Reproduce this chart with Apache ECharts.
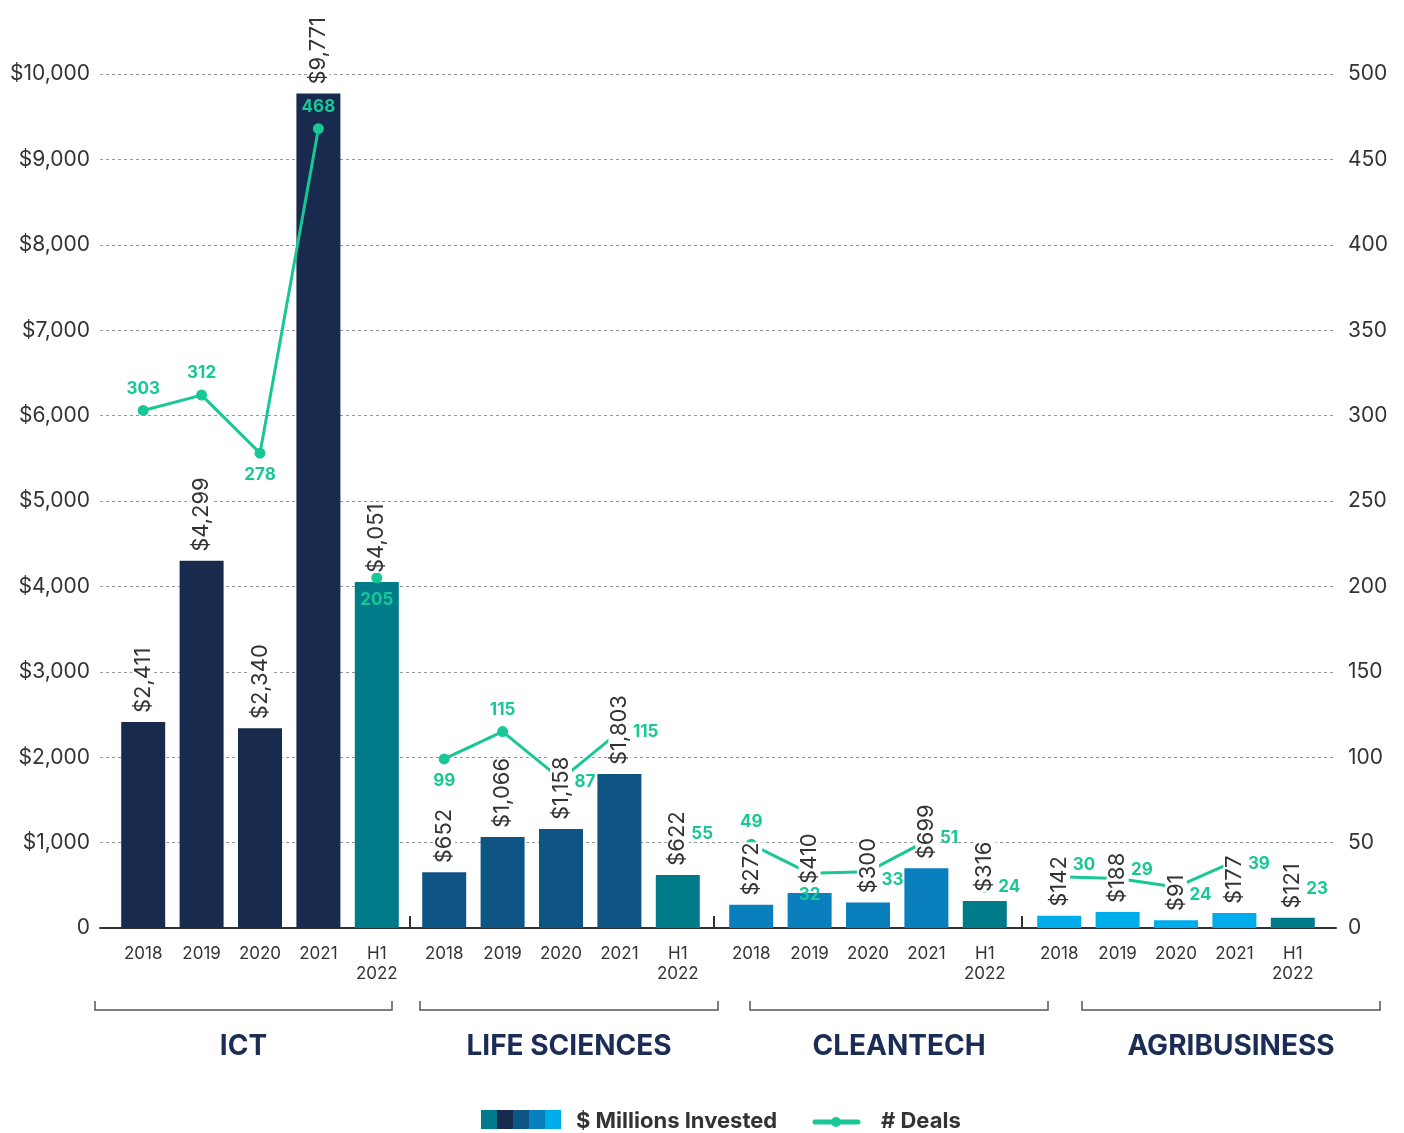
<!DOCTYPE html>
<html>
<head>
<meta charset="utf-8">
<script src="https://cdn.jsdelivr.net/npm/echarts@6/dist/echarts.min.js"></script>
<style>
  html, body { margin: 0; padding: 0; background: #fff; }
  #chart { width: 1404px; height: 1133px; }
</style>
</head>
<body>
<div id="chart"></div>
<script>
// data
const sectors = ["ICT", "LIFE SCIENCES", "CLEANTECH", "AGRIBUSINESS"];
const periods = ["2018", "2019", "2020", "2021", "H1\n2022"];
const ictInvested = [2411, 4299, 2340, 9771, 4051];
const lifeSciInvested = [652, 1066, 1158, 1803, 622];
const cleantechInvested = [272, 410, 300, 699, 316];
const agriInvested = [142, 188, 91, 177, 121];
const ictDeals = [303, 312, 278, 468, 205];
const lifeSciDeals = [99, 115, 87, 115, 55];
const cleantechDeals = [49, 32, 33, 51, 24];
const agriDeals = [30, 29, 24, 39, 23];
const investedMax = 10000, investedStep = 1000;
const dealsMax = 500, dealsStep = 50;

const invested = [ictInvested, lifeSciInvested, cleantechInvested, agriInvested];
const deals = [ictDeals, lifeSciDeals, cleantechDeals, agriDeals];

// styles
const FONT = "Inter";
const TXT = "#333";
const GREEN = "#17c896";
const TEAL = "#007b8a";
const barColors = ["#182a4e", "#0e5585", "#0a7fbd", "#00adec"];
const groupLeft = [114, 415, 722, 1030];
const groupWidth = 292;
const TOP = 74, BOTTOM = 205;
// where each deal label sits relative to its point
const dealLabelPos = [
  ["top", "top", "bottom", "top", "bottom"],
  ["bottom", "top", "right", "right", "right"],
  ["top", "bottom", "right", "right", "right"],
  ["right", "right", "right", "right", "right"]
];
const dealLabelShift = [
  [0, 0, 0, 0, 0],
  [0, 0, 2, 0, 0],
  [0, 0, 8, -3, 0],
  [-12, -9, 8, 3, 0]
];

let myChart = echarts.init(document.getElementById("chart"));

const fmtMoney = v => "$" + Number(v).toLocaleString("en-US");

let grid = [{ left: 100, right: 68, top: TOP, bottom: BOTTOM }];
let xAxis = [{
  gridIndex: 0, type: "category", data: [""],
  axisLine: { lineStyle: { color: "#333", width: 2 } },
  axisTick: { show: false }, axisLabel: { show: false }
}];
let yAxis = [
  {
    gridIndex: 0, type: "value", min: 0, max: investedMax, interval: investedStep,
    axisLine: { show: false }, axisTick: { show: false },
    axisLabel: { formatter: v => v === 0 ? "0" : fmtMoney(v), color: TXT, fontSize: 21, fontFamily: FONT, margin: 10 },
    splitLine: { lineStyle: { color: "#999", type: [3, 3], width: 1 } }
  },
  {
    gridIndex: 0, type: "value", min: 0, max: dealsMax, interval: dealsStep, position: "right",
    axisLine: { show: false }, axisTick: { show: false },
    axisLabel: { color: TXT, fontSize: 21, fontFamily: FONT, margin: 12 },
    splitLine: { show: false }
  }
];
let series = [];

sectors.forEach((name, g) => {
  grid.push({ left: groupLeft[g], width: groupWidth, top: TOP, bottom: BOTTOM });
  xAxis.push({
    gridIndex: g + 1, type: "category", data: periods,
    axisLine: { show: false }, axisTick: { show: false },
    axisLabel: { color: TXT, fontSize: 17, fontFamily: FONT, margin: 16, lineHeight: 20, interval: 0 }
  });
  const yMoney = yAxis.length;
  yAxis.push({ gridIndex: g + 1, type: "value", min: 0, max: investedMax, interval: investedStep, show: false, splitLine: { show: false } });
  const yDeals = yAxis.length;
  yAxis.push({ gridIndex: g + 1, type: "value", min: 0, max: dealsMax, interval: dealsStep, show: false, splitLine: { show: false } });

  series.push({
    name: "$ Millions Invested", type: "bar", xAxisIndex: g + 1, yAxisIndex: yMoney,
    barWidth: 44, barGap: "-100%", z: 2,
    data: invested[g].map((v, i) => ({
      value: v, itemStyle: { color: i === periods.length - 1 ? TEAL : barColors[g] }
    }))
  });
  // labels on a see-through copy so they sit above the deals line
  series.push({
    type: "bar", xAxisIndex: g + 1, yAxisIndex: yMoney,
    barWidth: 44, barGap: "-100%", z: 6, silent: true,
    itemStyle: { color: "rgba(0,0,0,0)" },
    label: {
      show: true, position: "top", distance: 9, rotate: 90, align: "left", verticalAlign: "middle",
      formatter: p => fmtMoney(p.value), color: TXT, fontSize: 22, fontFamily: FONT,
      backgroundColor: "#fff", padding: 0
    },
    data: invested[g]
  });
  const dealItems = deals[g].map((v, i) => ({
    value: v,
    label: { position: dealLabelPos[g][i], offset: [0, dealLabelShift[g][i]] }
  }));
  const dealLabel = { show: true, color: GREEN, fontSize: 17, fontWeight: "bold", fontFamily: FONT, distance: 8 };
  // full years joined by a line, the half year stands alone
  series.push({
    name: "# Deals", type: "line", xAxisIndex: g + 1, yAxisIndex: yDeals, z: 4,
    symbol: "circle", symbolSize: 11,
    lineStyle: { color: GREEN, width: 3 }, itemStyle: { color: GREEN, opacity: 1 },
    data: dealItems.slice(0, 4).concat(["-"]),
    label: dealLabel
  });
  series.push({
    name: "# Deals", type: "scatter", xAxisIndex: g + 1, yAxisIndex: yDeals, z: 4,
    symbol: "circle", symbolSize: 11, itemStyle: { color: GREEN, opacity: 1 },
    data: ["-", "-", "-", "-", dealItems[4]],
    label: dealLabel
  });
});

// brackets, sector names, separators and legend
const brackets = [[95, 392], [420, 718], [750, 1048], [1082, 1380]];
let graphic = [];
brackets.forEach((b, g) => {
  graphic.push({
    type: "polyline", shape: { points: [[b[0], 1001], [b[0], 1010], [b[1], 1010], [b[1], 1001]] },
    style: { stroke: "#555", lineWidth: 1.5, fill: null }
  });
  graphic.push({
    type: "text", x: (b[0] + b[1]) / 2, y: 1047,
    style: { text: sectors[g], fill: "#1b2c55", font: "bold 28px " + FONT, align: "center", verticalAlign: "middle" }
  });
});
[410, 714, 1022].forEach(x => {
  graphic.push({ type: "line", shape: { x1: x, y1: 916, x2: x, y2: 928 }, style: { stroke: "#333", lineWidth: 2 } });
});
[TEAL].concat(barColors).forEach((c, i) => {
  graphic.push({ type: "rect", shape: { x: 481 + i * 16, y: 1110, width: 16, height: 19 }, style: { fill: c } });
});
graphic.push({
  type: "text", x: 576, y: 1121,
  style: { text: "$ Millions Invested", fill: TXT, font: "bold 22px " + FONT, verticalAlign: "middle" }
});
graphic.push({ type: "line", shape: { x1: 815, y1: 1122, x2: 858, y2: 1122 }, style: { stroke: GREEN, lineWidth: 5, lineCap: "round" } });
graphic.push({ type: "circle", shape: { cx: 836, cy: 1122, r: 5 }, style: { fill: GREEN } });
graphic.push({
  type: "text", x: 881, y: 1121,
  style: { text: "# Deals", fill: TXT, font: "bold 22px " + FONT, verticalAlign: "middle" }
});

myChart.setOption({
  animation: false,
  backgroundColor: "#fff",
  grid: grid,
  xAxis: xAxis,
  yAxis: yAxis,
  series: series,
  graphic: graphic
});
</script>
</body>
</html>
